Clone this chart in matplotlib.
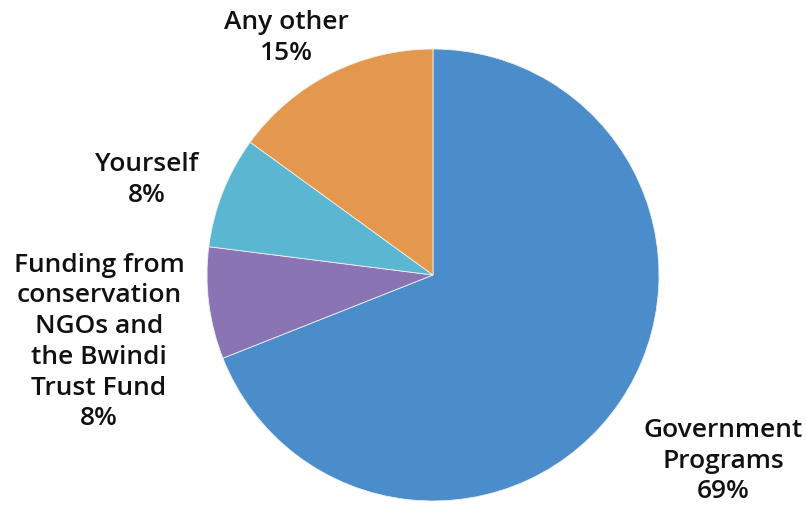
import matplotlib
matplotlib.use("Agg")
import matplotlib.pyplot as plt

categories = ["Government\nPrograms", "Funding from\nconservation\nNGOs and\nthe Bwindi\nTrust Fund", "Yourself", "Any other"]
values = [69, 8, 8, 15]
colors = ["#4A8DCA", "#8A74B4", "#5BB7D1", "#E4984D"]

W, H = 806, 506
fig = plt.figure(figsize=(W / 100, H / 100), dpi=100)
cx, cy, r = 433, 276, 226
ax = fig.add_axes([(cx - r) / W, (H - cy - r) / H, 2 * r / W, 2 * r / H])
ax.pie(values, colors=colors, startangle=90, counterclock=False, radius=1,
       wedgeprops=dict(edgecolor="#f0f0f0", linewidth=0.6))
ax.set_xlim(-1, 1)
ax.set_ylim(-1, 1)
ax.set_aspect("equal")
ax.axis("off")

label_px = [(723, 461), (99, 342), (147, 180), (286, 38)]
for cat, val, (px, py) in zip(categories, values, label_px):
    ax.text((px - cx) / r, (cy - py) / r, f"{cat}\n{val}%", ha="center", va="center",
            fontsize=19, family="Open Sans", fontweight="semibold", color="#111111",
            linespacing=1.3, clip_on=False)

fig.savefig("out.png", dpi=100)
